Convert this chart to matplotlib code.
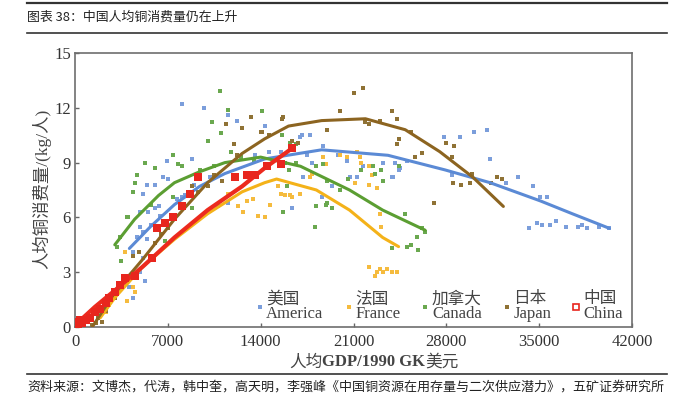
import matplotlib
matplotlib.use("Agg")
import matplotlib.pyplot as plt
from matplotlib.lines import Line2D

serif_cjk = ['Liberation Serif', 'Noto Sans CJK SC']
cjk = ['Noto Sans CJK SC', 'DejaVu Sans']

title = '图表 38：中国人均铜消费量仍在上升'
source = '资料来源：文博杰，代涛，韩中奎，高天明，李强峰《中国铜资源在用存量与二次供应潜力》，五矿证券研究所'
xlabel_parts = ['人均', 'GDP/1990 GK', '美元']
ylabel = '人均铜消费量/(kg/人)'

names = ['美国\nAmerica', '法国\nFrance', '加拿大\nCanada', '日本\nJapan', '中国\nChina']

xticks = [0, 7000, 14000, 21000, 28000, 35000, 42000]
yticks = [0, 3, 6, 9, 12, 15]

# scatter (GDP, kg per person)
america_x = [8100, 9700, 11500, 12200, 8800, 6900, 5400, 6000, 5100, 6600, 7000, 6300, 6000, 4900,
             5500, 4900, 5100, 4700, 5400, 4400, 5100, 4900, 4100, 5300, 4400, 10800, 11500, 13600,
             7700, 8100, 5700, 6400, 8300, 9000, 10200, 14300, 17000, 17500, 18700, 20500, 20700,
             21300, 19400, 18600, 16400, 21700, 23200, 24000, 24400, 17100, 17700, 14600, 15500,
             17900, 19800, 24100, 24500, 25000, 23900, 17200, 27800, 29000, 30100, 31100, 31300,
             28400, 32500, 33400, 34500, 35100, 35600, 34200, 34800, 35200, 35800, 36300, 37000,
             37900, 38200, 38600, 39500, 40300]
america_y = [12.2, 12.0, 11.6, 11.3, 9.2, 9.1, 7.8, 7.8, 7.3, 8.2, 8.1, 6.6, 6.5, 6.3,
             6.3, 5.5, 5.2, 4.9, 4.8, 4.1, 3.8, 3.0, 2.2, 2.5, 1.6, 6.6, 6.8, 9.4,
             7.0, 7.1, 5.6, 6.1, 7.2, 7.8, 8.2, 11.0, 10.4, 9.4, 9.9, 9.1, 8.2,
             8.2, 7.7, 7.1, 6.5, 8.8, 9.0, 8.2, 8.6, 10.5, 10.5, 9.6, 9.6,
             9.0, 9.4, 9.0, 8.7, 9.1, 8.2, 8.2, 10.4, 10.4, 10.7, 10.8, 9.2,
             8.3, 7.9, 8.2, 7.7, 7.1, 7.1, 5.4, 5.7, 5.6, 5.6, 5.8, 5.5,
             5.5, 5.6, 5.4, 5.5, 5.4]

france_x = [3800, 4400, 3900, 4500, 12300, 13000, 13400, 12700, 13800, 14300, 11500, 2600, 3200,
            3800, 2300, 18700, 18900, 20000, 20500, 21300, 21500, 21600, 22200, 22400, 21100,
            22200, 22800, 17700, 17900, 15300, 15500, 15800, 16200, 16400, 17000, 14700, 23000,
            23100, 22200, 22800, 23000, 23200, 23500, 23900, 24300, 22600]
france_y = [4.1, 2.2, 1.4, 1.9, 6.6, 6.9, 7.0, 6.3, 6.1, 6.0, 7.3, 1.2, 1.9,
            2.5, 0.8, 9.3, 8.9, 9.4, 9.3, 9.6, 9.3, 9.0, 8.8, 8.3, 7.9,
            7.8, 7.6, 8.2, 8.4, 7.7, 7.3, 7.2, 7.2, 7.1, 7.3, 6.7, 6.2,
            5.5, 3.3, 3.0, 3.2, 3.0, 3.2, 3.0, 3.0, 2.8]

canada_x = [10900, 11500, 10300, 11000, 10000, 5300, 6000, 4700, 4500, 4400, 7400, 8100, 7800,
            3900, 4000, 3200, 3500, 6800, 11800, 14100, 8800, 7400, 3400, 5700, 15600, 16200,
            16700, 15800, 16100, 16700, 18200, 18700, 19000, 20000, 20600, 21600, 22500, 23100,
            22600, 23200, 24400, 16000, 18200, 18900, 19000, 19400, 18100, 15700, 24900, 26200,
            26400, 25800, 25900, 25300, 25000, 23900, 9400, 10500, 12500, 13500]
canada_y = [12.9, 11.9, 11.2, 10.6, 10.2, 9.0, 8.7, 8.3, 7.9, 7.4, 9.4, 8.8, 8.9,
            6.0, 6.0, 4.4, 3.6, 4.7, 9.6, 11.8, 6.5, 7.1, 4.9, 6.7, 10.5, 10.1,
            10.0, 9.0, 8.6, 9.0, 8.8, 8.9, 8.0, 7.5, 8.1, 8.6, 8.8, 8.6,
            8.4, 8.0, 8.8, 7.7, 6.6, 6.7, 6.8, 6.5, 5.5, 6.3, 6.2, 5.4,
            5.2, 4.9, 4.2, 4.5, 4.4, 4.3, 8.6, 8.8, 9.3, 9.1]

japan_x = [11400, 12600, 14000, 12000, 11100, 10000, 8800, 8800, 7500, 8100, 4800, 4400, 2000,
           2300, 1700, 13300, 12200, 15600, 21000, 21700, 20000, 23900, 24300, 21900, 22200,
           23000, 19000, 25300, 24400, 24300, 26200, 25600, 27100, 14100, 14600, 15700, 16800,
           16400, 28000, 28600, 28400, 28500, 29100, 29800, 29900, 31400, 31800, 32200, 3000,
           3400, 1300, 1600, 2000, 6000, 7000, 9300, 10500, 6500]
japan_y = [11.1, 10.9, 10.7, 10.0, 8.0, 7.7, 7.7, 7.2, 6.0, 6.5, 4.1, 3.9, 0.8,
           0.9, 0.5, 11.5, 9.4, 11.4, 12.8, 13.1, 11.8, 11.8, 11.4, 11.2, 11.1,
           11.3, 10.8, 10.7, 10.3, 10.0, 9.5, 9.3, 6.8, 10.7, 10.5, 11.5, 10.1,
           10.2, 10.1, 9.9, 9.3, 7.9, 7.8, 7.9, 8.4, 7.9, 8.2, 8.1, 1.6,
           2.0, 0.1, 0.2, 0.3, 4.6, 5.4, 7.4, 8.3, 5.1]

china_x = [9300, 12100, 13000, 13600, 14500, 15500, 16400, 8700, 8100, 7400, 6800, 6200, 5800,
           4500, 100, 400, 800, 1100, 1500, 1900, 2300, 200, 500, 2600, 3000, 3400, 3800]
china_y = [8.2, 8.2, 8.3, 8.3, 8.8, 8.9, 9.8, 7.3, 6.6, 6.0, 5.7, 5.4, 3.8,
           2.8, 0.3, 0.4, 0.4, 0.5, 0.8, 1.0, 1.3, 0.1, 0.2, 1.6, 1.9, 2.3, 2.7]

# fitted curves
america_fit_x = [4100, 5700, 7500, 9400, 11300, 14300, 18600, 23600, 27900, 31300, 35100, 37500, 40300]
america_fit_y = [4.3, 5.5, 6.7, 7.7, 8.4, 9.2, 9.7, 9.4, 8.6, 7.9, 6.9, 6.2, 5.4]
canada_fit_x = [3000, 4500, 6300, 7500, 9400, 11300, 14000, 17000, 20700, 23200, 26400]
canada_fit_y = [4.5, 5.9, 7.2, 7.9, 8.5, 9.0, 9.3, 8.8, 7.5, 6.4, 5.3]
france_fit_x = [1900, 3000, 5100, 7500, 10000, 12600, 14300, 15200, 18200, 20700, 23200, 24400]
france_fit_y = [0.5, 1.6, 3.3, 4.8, 6.2, 7.4, 7.9, 8.1, 7.5, 6.4, 4.9, 4.4]
japan_fit_x = [1300, 3000, 5100, 7500, 10000, 12600, 14300, 16100, 18600, 21900, 24900, 27500, 30000, 32300]
japan_fit_y = [0.0, 1.9, 3.7, 5.9, 7.9, 9.5, 10.3, 11.0, 11.3, 11.4, 10.8, 9.6, 8.2, 6.6]
china_fit_x = [300, 1500, 3000, 5100, 7500, 10000, 12600, 14300, 16400]
china_fit_y = [0.3, 1.1, 2.0, 3.3, 4.9, 6.4, 7.7, 8.7, 9.8]

pt_colors = ['#7b9edb', '#f5bb3e', '#6aa84f', '#8f7235', '#e8261e']
ln_colors = ['#5b8ad5', '#f4b219', '#5b9e32', '#8c6420', '#ec2a1e']

fig = plt.figure(figsize=(6.74, 3.97), dpi=100)
ax = fig.add_axes([75 / 674, 1 - 327 / 397, 557 / 674, 274 / 397])

series = [(america_x, america_y), (france_x, france_y), (canada_x, canada_y), (japan_x, japan_y)]
for (sx, sy), c in zip(series, pt_colors):
    ax.scatter(sx, sy, marker='s', s=11, color=c, linewidths=0, zorder=2)

fits = [(america_fit_x, america_fit_y), (canada_fit_x, canada_fit_y), (france_fit_x, france_fit_y),
        (japan_fit_x, japan_fit_y)]
fit_cols = [ln_colors[0], ln_colors[2], ln_colors[1], ln_colors[3]]
for (fx, fy), c in zip(fits, fit_cols):
    ax.plot(fx, fy, color=c, lw=2.2, solid_capstyle='round', zorder=3)

ax.plot(china_fit_x, china_fit_y, color=ln_colors[4], lw=3.0, solid_capstyle='round', zorder=4)
ax.scatter(china_x, china_y, marker='s', s=28, color=pt_colors[4], linewidths=0, zorder=5)

ax.set_xlim(0, 42000)
ax.set_ylim(0, 15)
ax.set_xticks(xticks)
ax.set_yticks(yticks)
ax.tick_params(direction='in', length=3, width=1, color='#666', labelsize=12, labelcolor='#333')
ax.tick_params(axis='x', pad=5)
ax.tick_params(axis='y', pad=3)
for lab in ax.get_xticklabels() + ax.get_yticklabels():
    lab.set_family('Liberation Serif')
for sp in ax.spines.values():
    sp.set_color('#6e6e6e')
    sp.set_linewidth(1.2)

handles = [Line2D([], [], ls='none', marker='s', ms=2.5, color=c, mew=0) for c in pt_colors[:4]]
handles.append(Line2D([], [], ls='none', marker='s', ms=5, mfc='none', mec=pt_colors[4], mew=1.2))
leg = ax.legend(handles, names, ncol=5, loc='lower right', bbox_to_anchor=(1.01, -0.035),
                frameon=False, handlelength=0.5, handletextpad=0.15, columnspacing=1.25,
                prop={'family': serif_cjk, 'size': 12})
for t in leg.get_texts():
    t.set_color('#444')
    t.set_linespacing(0.85)

# x label: bold latin part in the middle, chinese on both sides
mid = fig.text(374 / 674, 1 - 362 / 397, xlabel_parts[1], ha='center', va='center', fontsize=12,
               family='Liberation Serif', weight='bold', color='#444')
ax.annotate(xlabel_parts[0], xy=(0, 0.5), xycoords=mid, ha='right', va='center', fontsize=12,
            family=cjk, color='#444')
ax.annotate(xlabel_parts[2], xy=(1, 0.5), xycoords=mid, ha='left', va='center', fontsize=12,
            family=cjk, color='#444')

fig.text(42 / 674, 1 - 189 / 397, ylabel, ha='center', va='center', rotation=90, fontsize=12.5,
         family=serif_cjk, color='#444')

# page header and footer
fig.add_artist(Line2D([27 / 674, 667 / 674], [1 - 2.5 / 397] * 2, color='#333', lw=1.6))
fig.add_artist(Line2D([27 / 674, 667 / 674], [1 - 33 / 397] * 2, color='#333', lw=1.2))
fig.add_artist(Line2D([27 / 674, 667 / 674], [1 - 374 / 397] * 2, color='#333', lw=1.2))
fig.text(27 / 674, 1 - 17 / 397, title, ha='left', va='center', fontsize=9.3, family=cjk, color='#222')
fig.text(27 / 674, 1 - 387 / 397, source, ha='left', va='center', fontsize=9.4, family=cjk, color='#222')

fig.savefig('out.png', dpi=100)
